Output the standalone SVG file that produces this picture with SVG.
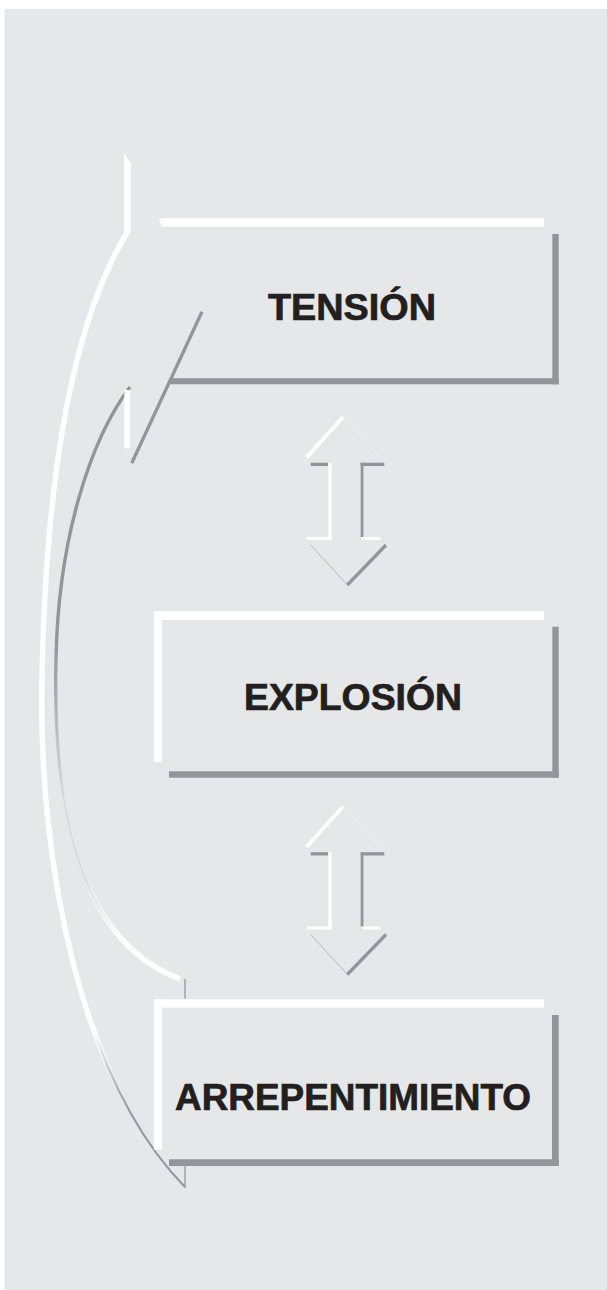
<svg xmlns="http://www.w3.org/2000/svg" width="607" height="1290" viewBox="0 0 607 1290">
<style>
.hi{fill:#ffffff}
.sh{fill:#939598}
.lbl{font-family:"Liberation Sans",Arial,sans-serif;font-weight:bold;font-size:36px;fill:#231f20;stroke:#231f20;stroke-width:0.7;text-anchor:middle}
</style>
<defs>
<linearGradient id="outerW" gradientUnits="userSpaceOnUse" x1="0" y1="232" x2="0" y2="1187">
<stop offset="0" stop-color="#fff" stop-opacity="1"/>
<stop offset="0.83" stop-color="#fff" stop-opacity="1"/>
<stop offset="0.9" stop-color="#fff" stop-opacity="0"/>
</linearGradient>
<linearGradient id="outerG" gradientUnits="userSpaceOnUse" x1="0" y1="232" x2="0" y2="1187">
<stop offset="0" stop-color="#939598" stop-opacity="0"/>
<stop offset="0.84" stop-color="#939598" stop-opacity="0"/>
<stop offset="0.92" stop-color="#939598" stop-opacity="1"/>
</linearGradient>
<linearGradient id="innerG" gradientUnits="userSpaceOnUse" x1="0" y1="387" x2="0" y2="979">
<stop offset="0" stop-color="#939598" stop-opacity="1"/>
<stop offset="0.43" stop-color="#939598" stop-opacity="1"/>
<stop offset="0.7" stop-color="#939598" stop-opacity="0"/>
</linearGradient>
<linearGradient id="innerW" gradientUnits="userSpaceOnUse" x1="0" y1="387" x2="0" y2="979">
<stop offset="0" stop-color="#fff" stop-opacity="0"/>
<stop offset="0.83" stop-color="#fff" stop-opacity="0"/>
<stop offset="0.94" stop-color="#fff" stop-opacity="1"/>
</linearGradient>
<g id="dbl">
<line x1="306.5" y1="457.5" x2="343" y2="417" stroke="#fff" stroke-width="4"/>
<line x1="344.5" y1="417.5" x2="383" y2="461" stroke="#eeeff0" stroke-width="0.7"/>
<rect class="sh" x="310.7" y="462.7" width="17.6" height="3.3"/>
<rect class="hi" x="328.3" y="462.7" width="3.4" height="77.3"/>
<rect class="hi" x="306.7" y="537" width="25" height="3"/>
<rect class="sh" x="360.7" y="462.7" width="23.6" height="3.3"/>
<rect class="sh" x="360.7" y="462.7" width="2.7" height="77.3"/>
<rect class="hi" x="360.7" y="537" width="20" height="3"/>
<line x1="310.7" y1="545" x2="347.3" y2="585" stroke="#a7a9ac" stroke-width="0.8"/>
<line x1="347.3" y1="585" x2="386" y2="545" stroke="#939598" stroke-width="3.3"/>
</g>
</defs>
<rect x="4.5" y="9" width="602.5" height="1281" fill="#e6e7e8"/>
<g id="connectors">
<g id="cycle-arrow">
<path d="M130,387 C90,440 58,540 56,660 C52,830 88,945 180,979" fill="none" stroke="#c9cacc" stroke-width="0.8"/>
<path d="M130,387 C90,440 58,540 56,660 C52,830 88,945 180,979" fill="none" stroke="url(#innerG)" stroke-width="3.4"/>
<path d="M130,387 C90,440 58,540 56,660 C52,830 88,945 180,979" fill="none" stroke="url(#innerW)" stroke-width="5.5"/>
<path d="M127.4,232 C80,310 46,450 42,680 C38,860 80,1080 185,1187" fill="none" stroke="url(#outerW)" stroke-width="5.5"/>
<path d="M127.4,232 C80,310 46,450 42,680 C38,860 80,1080 185,1187" fill="none" stroke="url(#outerG)" stroke-width="2"/>
<polygon class="hi" points="124,152.7 130.7,163.3 130.7,232 124,237"/>
<rect class="hi" x="124.3" y="390" width="5.7" height="58.3"/>
<line x1="131.7" y1="463.3" x2="202" y2="311.7" stroke="#939598" stroke-width="3.3"/>
<line x1="185" y1="979" x2="185" y2="998.5" stroke="#939598" stroke-width="1.3"/>
<line x1="185" y1="1166" x2="185" y2="1188" stroke="#939598" stroke-width="1.3"/>
</g>
<use id="arrow-tension-explosion" href="#dbl"/>
<use id="arrow-explosion-arrepentimiento" href="#dbl" transform="translate(0,389.5)"/>
</g>
<g id="node-tension">
<polygon class="hi" points="159,218.3 544,218.3 544,226.7 161.8,226.7"/>
<rect class="sh" x="552.3" y="234" width="6.4" height="150.3"/>
<polygon class="sh" points="171.6,378.3 558.7,378.3 558.7,384.3 168.8,384.3"/>
<text class="lbl" x="352" y="320" textLength="168" lengthAdjust="spacingAndGlyphs">TENSIÓN</text>
</g>
<g id="node-explosion">
<rect class="hi" x="154" y="611" width="390" height="9"/>
<rect class="hi" x="154" y="611" width="8" height="151"/>
<rect class="sh" x="552.3" y="626.7" width="6.4" height="151"/>
<rect class="sh" x="169" y="771.3" width="389.7" height="6.4"/>
<text class="lbl" x="353" y="710" textLength="218" lengthAdjust="spacingAndGlyphs">EXPLOSIÓN</text>
</g>
<g id="node-arrepentimiento">
<rect class="hi" x="154" y="999.3" width="390" height="8.4"/>
<rect class="hi" x="154" y="999.3" width="8" height="150.7"/>
<rect class="sh" x="552" y="1015" width="6.7" height="151"/>
<rect class="sh" x="169" y="1159.3" width="389.7" height="6.7"/>
<text class="lbl" x="353" y="1110" textLength="356" lengthAdjust="spacingAndGlyphs">ARREPENTIMIENTO</text>
</g>
</svg>
